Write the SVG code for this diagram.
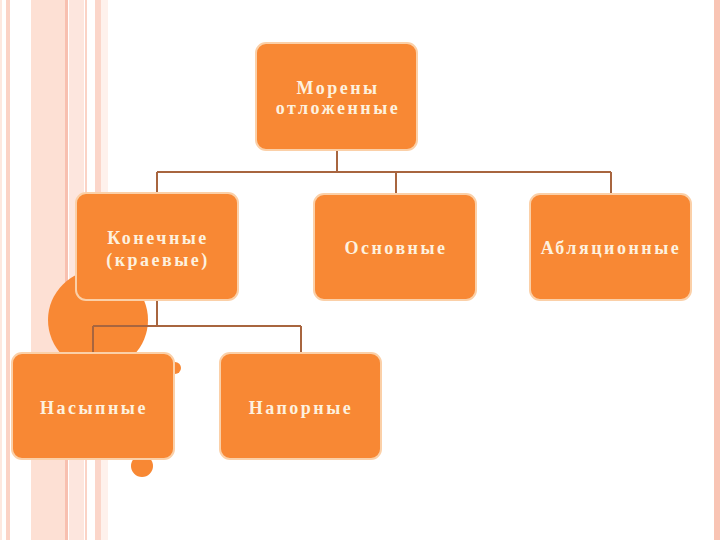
<svg xmlns="http://www.w3.org/2000/svg" width="720" height="540" viewBox="0 0 720 540">
<style>
.box{fill:#f88834;stroke:#fbd0a8;stroke-width:2}
.lbl{font-family:"Liberation Serif","DejaVu Serif",serif;font-size:18px;font-weight:bold;fill:#fdf1df;text-anchor:middle;letter-spacing:2.5px}
.con{fill:none;stroke:#a8653f;stroke-width:2}
</style>
<rect width="720" height="540" fill="#ffffff"/>
<g id="background">
<rect x="0" y="0" width="2" height="540" fill="#fde8df"/>
<rect x="6" y="0" width="4" height="540" fill="#fbd3c6"/>
<rect x="31" y="0" width="34" height="540" fill="#fde0d4"/>
<rect x="65" y="0" width="3" height="540" fill="#f8c0b0"/>
<rect x="69" y="0" width="15" height="540" fill="#fde6de"/>
<rect x="85" y="0" width="2" height="540" fill="#fbd3c6"/>
<rect x="95" y="0" width="6" height="540" fill="#fbd6ca"/>
<rect x="101" y="0" width="7" height="540" fill="#fef1ec"/>
<rect x="714" y="0" width="6" height="540" fill="#f9c4b4"/>
<circle cx="98" cy="320" r="50" fill="#f88834"/>
<circle cx="175" cy="368" r="6" fill="#f88834"/>
<circle cx="142" cy="466" r="11" fill="#f88834"/>
</g>
<g id="connectors">
<path class="con" d="M337 150V172M157 172H611M157 172V193M396 172V194M611 172V194"/>
<path class="con" d="M157 300V326M93 326H301M93 326V353M301 326V353" stroke="#c0674a"/>
</g>
<g id="n-moreny">
<rect class="box" x="256" y="43" width="161" height="107" rx="10"/>
<text class="lbl" x="338" y="94">Морены</text>
<text class="lbl" x="338" y="114">отложенные</text>
</g>
<g id="n-konechnye">
<rect class="box" x="76" y="193" width="162" height="107" rx="10" stroke="#ffffff"/>
<text class="lbl" x="158" y="244">Конечные</text>
<text class="lbl" x="158" y="266">(краевые)</text>
</g>
<g id="n-osnovnye">
<rect class="box" x="314" y="194" width="162" height="106" rx="10"/>
<text class="lbl" x="396" y="254">Основные</text>
</g>
<g id="n-ablyatsionnye">
<rect class="box" x="530" y="194" width="161" height="106" rx="10"/>
<text class="lbl" x="611" y="254">Абляционные</text>
</g>
<g id="n-nasypnye">
<rect class="box" x="12" y="353" width="162" height="106" rx="10"/>
<text class="lbl" x="94" y="414">Насыпные</text>
</g>
<g id="n-napornye">
<rect class="box" x="220" y="353" width="161" height="106" rx="10"/>
<text class="lbl" x="301" y="414">Напорные</text>
</g>
</svg>
